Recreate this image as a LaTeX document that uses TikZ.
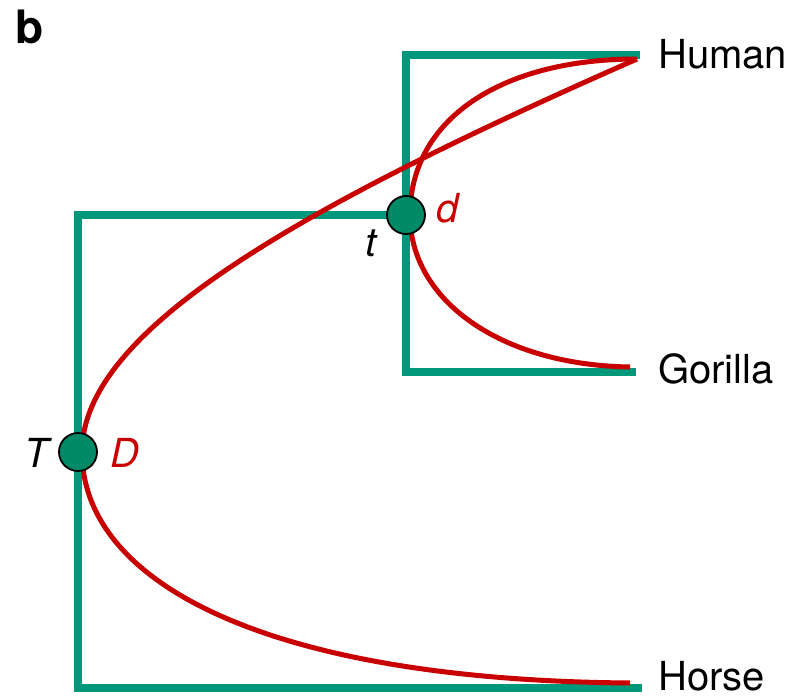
\documentclass[tikz,border=0pt]{standalone}
\usepackage{fontspec}
\setmainfont{TeX Gyre Heros}
\definecolor{treegreen}{RGB}{0,152,122}
\definecolor{nodegreen}{RGB}{0,138,104}
\definecolor{genered}{RGB}{200,0,0}
\tikzset{
  branch/.style={draw=treegreen, line width=8pt, line join=miter, line cap=butt},
  gene/.style={draw=genered, line width=5pt},
  event/.style={circle, fill=nodegreen, draw=black, line width=1.8pt, minimum size=38pt, inner sep=0pt},
  taxon/.style={anchor=base west, font=\fontsize{40}{44}\selectfont, inner sep=0pt},
  evlabel/.style={font=\fontsize{40}{44}\selectfont\itshape, inner sep=0pt}
}
\begin{document}
\begin{tikzpicture}[x=1pt,y=-1pt]
\useasboundingbox (0,0) rectangle (796,699);
% tree coordinates
\coordinate (Tpos) at (78,452);
\coordinate (tpos) at (406,215);
\coordinate (rootTop) at (78,215);
\coordinate (rootBot) at (78,688);
\coordinate (tTop) at (406,55);
\coordinate (tBot) at (406,372);
\coordinate (humanEnd) at (640,55);
\coordinate (gorillaEnd) at (636,372);
\coordinate (horseEnd) at (642,688);
% gene tree end points
\coordinate (Dv) at (82,452);
\coordinate (dv) at (410,215);
\coordinate (hG) at (637,59);
\coordinate (gG) at (630,367);
\coordinate (hoG) at (630,683);
% species tree
\draw[branch] (horseEnd) -- (rootBot) -- (rootTop) -- (tpos);
\draw[branch] (humanEnd) -- (tTop) -- (tBot) -- (gorillaEnd);
% gene tree
\draw[gene] (Dv) .. controls (82,330) and (300,207) .. (hG);
\draw[gene] (Dv) .. controls (82,580) and (260,680) .. (hoG);
\draw[gene] (dv) .. controls (410,120) and (500,59) .. (hG);
\draw[gene] (dv) .. controls (410,300) and (500,365) .. (gG);
% events
\node[event] (T) at (Tpos) {};
\node[event] (t) at (tpos) {};
% labels
\node[evlabel, text=black] (Tlab) at (37,453) {T};
\node[evlabel, text=genered] (Dlab) at (125,453) {D};
\node[evlabel, text=black] (tlab) at (371,243) {t};
\node[evlabel, text=genered] (dlab) at (448,208) {d};
\node[taxon] (human) at (658,68) {Human};
\node[taxon] (gorilla) at (658,383) {Gorilla};
\node[taxon] (horse) at (658,690) {Horse};
\node[anchor=base west, font=\fontsize{46}{50}\selectfont\bfseries, inner sep=0pt] (panel) at (15,43) {b};
\end{tikzpicture}
\end{document}
